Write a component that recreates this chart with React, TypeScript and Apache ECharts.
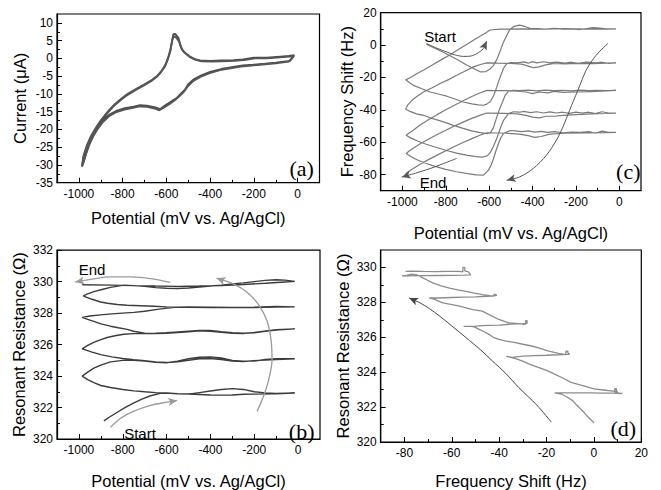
import React, { useEffect, useRef } from "react";
import * as echarts from "echarts";

// ---------- tick values ----------
const potentialTicks = [-1000, -800, -600, -400, -200, 0];
const potentialMinor = [-900, -700, -500, -300, -100];
const currentTicks = [-35, -30, -25, -20, -15, -10, -5, 0, 5, 10];
const currentMinor = [-32.5, -27.5, -22.5, -17.5, -12.5, -7.5, -2.5, 2.5, 7.5];
const freqTicks = [-80, -60, -40, -20, 0, 20];
const freqMinor = [-70, -50, -30, -10, 10];
const resTicksB = [320, 322, 324, 326, 328, 330, 332];
const resMinorB = [321, 323, 325, 327, 329, 331];
const resTicksD = [320, 322, 324, 326, 328, 330];
const resMinorD = [321, 323, 325, 327, 329];
const shiftTicks = [-80, -60, -40, -20, 0, 20];
const shiftMinor = [-70, -50, -30, -10, 10];

// ---------- (a) cyclic voltammograms ----------
const cvCycle1 = [
  [-15, 0.9], [-35, -0.7], [-100, -1.2], [-150, -1.5], [-203, -1.8], [-250, -2.0], [-294, -2.4], [-350, -3.0],
  [-400, -3.8], [-440, -4.8], [-477, -6.0], [-500, -7.3], [-515, -8.8], [-535, -10.0], [-553, -11.2], [-580, -12.2],
  [-610, -13.4], [-629, -14.3], [-650, -13.8], [-690, -13.3], [-720, -13.2], [-750, -13.6], [-790, -14.0], [-826, -14.7],
  [-860, -15.8], [-888, -17.3], [-910, -19.0], [-933, -21.2], [-950, -23.5], [-963, -25.8], [-975, -28.3], [-986, -30.5],
  [-980, -28.0], [-965, -25.0], [-948, -22.5], [-925, -20.0], [-903, -17.9], [-870, -15.4], [-842, -13.5], [-810, -11.8],
  [-781, -10.4], [-740, -8.9], [-705, -7.7], [-670, -6.4], [-644, -5.2], [-625, -3.9], [-606, -2.2], [-595, -0.5],
  [-583, 1.8], [-575, 4.5], [-568, 6.8], [-560, 6.9], [-545, 5.8], [-535, 3.5], [-525, 2.2], [-510, 1.3], [-492, 0.5],
  [-470, -0.2], [-446, -0.6], [-400, -0.7], [-350, -0.6], [-294, -0.5], [-250, -0.3], [-200, 0.2], [-142, 0.2],
  [-80, 0.5], [-40, 0.7], [-15, 0.9],
];
const cvCycle2 = [
  [-18, 0.6], [-40, -0.9], [-100, -1.4], [-160, -1.7], [-210, -2.0], [-260, -2.3], [-300, -2.7], [-355, -3.3],
  [-405, -4.2], [-445, -5.2], [-480, -6.5], [-503, -7.9], [-520, -9.4], [-540, -10.6], [-560, -11.7], [-585, -12.8],
  [-612, -13.9], [-632, -14.6], [-655, -14.1], [-692, -13.6], [-722, -13.5], [-752, -13.9], [-792, -14.4], [-828, -15.1],
  [-862, -16.3], [-890, -17.9], [-912, -19.7], [-935, -22.0], [-952, -24.3], [-966, -26.7], [-978, -29.2], [-985, -30.2],
  [-978, -27.2], [-962, -24.3], [-944, -21.8], [-920, -19.3], [-897, -17.2], [-865, -14.8], [-836, -12.9], [-805, -11.3],
  [-775, -9.9], [-735, -8.5], [-700, -7.3], [-665, -6.0], [-640, -4.8], [-620, -3.4], [-603, -1.6], [-592, 0.2],
  [-581, 2.6], [-573, 5.2], [-566, 6.2], [-556, 5.9], [-542, 4.8], [-532, 2.9], [-520, 1.8], [-505, 1.0], [-488, 0.2],
  [-465, -0.4], [-440, -0.8], [-395, -0.9], [-345, -0.8], [-290, -0.7], [-245, -0.5], [-195, 0.0], [-140, 0.0],
  [-80, 0.3], [-40, 0.5], [-18, 0.6],
];

// ---------- (c) frequency shift vs potential ----------
const freqTrace = [
  [-890, 0.5], [-850, -2], [-800, -5.2], [-750, -8.8], [-700, -12.6], [-660, -15.3], [-640, -16.6], [-615, -16.4],
  [-595, -14.8], [-580, -12.5], [-565, -9], [-550, -4], [-535, 1.5], [-519, 6], [-505, 9.5], [-485, 11.6], [-460, 12.3], [-435, 11.5], [-410, 10.2],
  [-380, 10.2], [-340, 9.8], [-300, 10.3], [-260, 9.9], [-220, 10], [-180, 9.6], [-150, 10.2], [-120, 10.8], [-90, 10.5], [-60, 10], [-15, 10],
  [-60, 9.9], [-150, 9.9], [-250, 10.1], [-350, 9.9], [-450, 10], [-550, 9.8], [-596, 9.3],
  [-620, 7.2], [-660, 4], [-700, 0.6], [-740, -2.6], [-780, -6], [-820, -9], [-860, -12.2], [-900, -15.2], [-940, -18.2], [-965, -20.2], [-985, -21.5],
  [-965, -23.4], [-949, -24.9], [-910, -27], [-872, -29], [-830, -30.4], [-795, -31.6], [-755, -33.5], [-719, -35.2], [-680, -36.3], [-650, -37], [-626, -37.2],
  [-611, -36.5], [-595, -35], [-580, -31.5], [-565, -26], [-550, -20], [-534, -14.5], [-519, -11.5], [-500, -10.8],
  [-470, -11], [-440, -10.4], [-420, -11.2], [-400, -10.2], [-380, -11], [-350, -10.3], [-320, -11], [-290, -10.5], [-250, -11.2], [-220, -10.6], [-190, -11.3], [-150, -10.5], [-110, -11], [-80, -10.6], [-50, -11.4], [-15, -11],
  [-60, -11.2], [-120, -11.5], [-200, -11.3], [-250, -11.6], [-300, -11.4], [-340, -12.2], [-370, -13.5], [-395, -14], [-420, -13], [-450, -11.8], [-500, -11.3], [-560, -11.2], [-611, -11],
  [-640, -12], [-673, -13.5], [-710, -16], [-749, -18.7], [-790, -21.5], [-826, -23.8], [-865, -26.5], [-903, -29], [-930, -31.5], [-955, -34], [-975, -37], [-985, -39.5],
  [-965, -41], [-935, -42.5], [-903, -43.4], [-860, -45.5], [-810, -47.5], [-765, -49.6], [-720, -51.5], [-680, -53], [-642, -54.1], [-610, -54.7],
  [-595, -54.3], [-580, -51], [-572, -47.5], [-557, -41.3], [-541, -36], [-526, -31], [-510, -28.5], [-490, -28],
  [-460, -28.2], [-420, -27.8], [-380, -28.3], [-340, -27.9], [-300, -28.2], [-260, -28], [-220, -28.3], [-180, -27.9], [-140, -28.1], [-100, -28], [-60, -28.2], [-15, -28],
  [-60, -28.3], [-130, -28.8], [-200, -29], [-260, -29.3], [-300, -28.6], [-330, -29.5], [-370, -29], [-400, -30], [-430, -29], [-470, -28.5], [-520, -28.2], [-570, -28.1], [-611, -28],
  [-640, -29.5], [-680, -31.8], [-720, -34.4], [-760, -37.2], [-800, -40], [-840, -43], [-880, -46.2], [-920, -49.6], [-950, -52.6], [-970, -54.5], [-983, -55.7],
  [-960, -57.5], [-930, -59.3], [-890, -61.3], [-850, -63], [-800, -65], [-750, -66.8], [-700, -68.2], [-660, -69], [-630, -69.2],
  [-610, -68.5], [-595, -66.5], [-580, -62.5], [-565, -57.8], [-549, -51.6], [-534, -46.5], [-511, -42.4], [-488, -41.2],
  [-460, -41.5], [-440, -41], [-410, -41.8], [-380, -41.2], [-350, -42], [-320, -41.3], [-290, -42], [-260, -41.5], [-230, -42.2], [-200, -41.4], [-170, -42], [-140, -41.5], [-110, -42.3], [-80, -41.2], [-50, -42], [-15, -42],
  [-60, -42.3], [-130, -42.5], [-200, -43], [-260, -43.5], [-300, -44], [-340, -44], [-370, -45], [-400, -44.5], [-430, -43.5], [-470, -42.5], [-530, -42.2], [-611, -42],
  [-640, -43.3], [-680, -45.3], [-720, -47.6], [-760, -50], [-800, -52.6], [-840, -55.3], [-880, -58.2], [-920, -61.2], [-950, -63.8], [-970, -65.6], [-982, -67],
  [-960, -69], [-930, -71], [-890, -73.2], [-850, -75], [-800, -76.8], [-750, -78.3], [-700, -79.4], [-660, -80.2], [-626, -80.4],
  [-603, -77.3], [-590, -74], [-580, -70.1], [-568, -65], [-557, -60.8], [-545, -57], [-534, -54.7], [-503, -52.8],
  [-480, -53], [-450, -53.5], [-420, -53], [-390, -53.8], [-360, -53.3], [-330, -54], [-300, -53.5], [-260, -54.2], [-220, -53.8], [-180, -54], [-140, -53.5], [-110, -54.5], [-80, -53.2], [-50, -54], [-15, -54],
  [-60, -54.2], [-150, -54.3], [-250, -54.5], [-320, -55], [-360, -56.5], [-390, -57], [-420, -56], [-460, -55], [-520, -54.5], [-611, -54.2],
  [-640, -55.6], [-680, -57.8], [-720, -60.2], [-760, -62.7], [-800, -65.3], [-840, -68], [-880, -70.8], [-920, -73.8], [-950, -76.3], [-970, -78], [-985, -79.5],
];
const freqStartArrow = [[-888, 0.9], [-840, -2], [-795, -4.3], [-760, -6], [-719, -7], [-685, -6.8], [-657, -5.3], [-627, -2.2], [-611, 2.5]];
const freqEndArrow = [[-749, -70], [-810, -73.2], [-872, -76.3], [-940, -79.2], [-1003, -81.6]];
const freqArcArrow = [[-53, 1], [-80, -2.5], [-107, -6.3], [-130, -10.5], [-153, -15.6], [-172, -21.5], [-191, -27.9], [-210, -34], [-229, -40.3], [-260, -50.6], [-290, -58.8], [-336, -68.1], [-397, -76.3], [-458, -81.4], [-519, -83.6]];

// ---------- (b) resonant resistance vs potential ----------
const resTrace = [
  [-886, 321.15], [-860, 321.4], [-825, 321.7], [-790, 322.0], [-749, 322.3], [-710, 322.55], [-673, 322.75], [-628, 322.9],
  [-600, 322.92], [-550, 322.88], [-500, 322.85], [-450, 322.95], [-400, 323.05], [-350, 323.15], [-300, 323.2], [-250, 323.15], [-200, 323.0], [-150, 322.93], [-100, 322.9], [-15, 322.92],
  [-100, 322.88], [-200, 322.85], [-250, 322.84], [-300, 322.8], [-350, 322.79], [-400, 322.8], [-450, 322.83], [-500, 322.86], [-550, 322.88], [-600, 322.92], [-650, 322.95],
  [-700, 323.0], [-749, 323.06], [-800, 323.15], [-856, 323.27], [-900, 323.4], [-932, 323.58], [-960, 323.77], [-985, 324.0],
  [-960, 324.25], [-932, 324.5], [-900, 324.7], [-856, 324.9], [-800, 325.0], [-749, 325.0],
  [-700, 324.96], [-650, 324.88], [-600, 324.85], [-550, 324.95], [-500, 325.1], [-450, 325.2], [-400, 325.22], [-350, 325.15], [-300, 325.0], [-250, 324.95], [-200, 324.95], [-150, 325.05], [-100, 325.1], [-15, 325.1],
  [-100, 325.05], [-200, 324.98], [-250, 324.93], [-300, 324.95], [-350, 325.05], [-400, 325.12], [-450, 325.1], [-500, 325.0], [-550, 324.9], [-600, 324.86], [-650, 324.9], [-700, 324.97], [-750, 325.04], [-800, 325.12],
  [-850, 325.22], [-900, 325.36], [-940, 325.52], [-970, 325.66], [-985, 325.73],
  [-960, 325.95], [-932, 326.14], [-900, 326.32], [-871, 326.45], [-830, 326.58], [-795, 326.66], [-750, 326.7],
  [-700, 326.7], [-650, 326.72], [-600, 326.75], [-550, 326.8], [-500, 326.85], [-450, 326.9], [-400, 326.9], [-350, 326.82], [-300, 326.75], [-250, 326.72], [-200, 326.75], [-150, 326.85], [-100, 326.92], [-15, 327.0],
  [-100, 326.95], [-200, 326.78], [-250, 326.7], [-300, 326.72], [-350, 326.78], [-400, 326.85], [-450, 326.87], [-500, 326.82], [-550, 326.77], [-600, 326.72], [-650, 326.7], [-700, 326.72],
  [-750, 326.85], [-780, 326.97], [-820, 327.07], [-856, 327.17], [-900, 327.32], [-932, 327.48], [-960, 327.6], [-985, 327.73],
  [-950, 327.82], [-901, 327.89], [-850, 327.95], [-800, 328.0], [-749, 328.05], [-700, 328.12], [-650, 328.22], [-597, 328.32], [-550, 328.38],
  [-500, 328.4], [-400, 328.38], [-300, 328.36], [-200, 328.38], [-100, 328.42], [-15, 328.4],
  [-100, 328.38], [-200, 328.36], [-300, 328.35], [-400, 328.35], [-500, 328.37], [-600, 328.4], [-660, 328.44], [-719, 328.47],
  [-780, 328.5], [-825, 328.55], [-870, 328.63], [-901, 328.71], [-940, 328.88], [-970, 329.03], [-980, 329.1],
  [-960, 329.22], [-932, 329.37], [-890, 329.52], [-856, 329.64], [-795, 329.78],
  [-750, 329.75], [-700, 329.7], [-650, 329.62], [-600, 329.58], [-550, 329.57], [-500, 329.6], [-450, 329.65], [-400, 329.72], [-350, 329.78], [-300, 329.85], [-250, 329.92], [-200, 330.0], [-150, 330.08], [-100, 330.12], [-60, 330.1], [-15, 330.02],
  [-60, 329.98], [-150, 329.9], [-250, 329.82], [-350, 329.75], [-450, 329.72], [-550, 329.7], [-650, 329.72], [-750, 329.75], [-850, 329.78], [-985, 329.8],
];
const resEndArrow = [[-583, 329.96], [-673, 330.2], [-760, 330.3], [-856, 330.3], [-932, 330.18], [-1017, 329.98]];
const resStartArrow = [[-856, 320.74], [-810, 321.32], [-749, 321.77], [-673, 322.14], [-597, 322.34], [-552, 322.45]];
const resArcArrow = [[-187, 321.75], [-157, 322.75], [-134, 323.78], [-119, 325.01], [-123, 326.25], [-141, 327.48], [-179, 328.51], [-233, 329.33], [-293, 329.84], [-372, 330.22]];

// ---------- (d) resonant resistance vs frequency shift ----------
const resFreqTrace = [
  [0, 321.1], [-1.5, 321.3], [-3, 321.5], [-4.2, 321.7], [-6, 321.95], [-7.5, 322.15], [-9, 322.37], [-11, 322.55], [-13.8, 322.75], [-16.6, 322.82],
  [-14, 322.82], [-8, 322.82], [-2, 322.82], [4, 322.8], [8, 322.8], [12, 322.78], [10.5, 322.8], [9.5, 322.85],
  [9.5, 323.05], [8.8, 323.05], [8.8, 322.88], [10, 322.9], [10, 322.92], [9.3, 322.92],
  [8, 322.92], [4, 322.98], [0, 323.04], [-4, 323.2], [-9.7, 323.42], [-13, 323.65], [-16.6, 323.89], [-20, 324.1], [-23.5, 324.27], [-27, 324.45], [-30.4, 324.65], [-33, 324.78], [-36, 324.88], [-37, 324.9], [-34.5, 324.85],
  [-30, 324.92], [-25, 324.95], [-20, 324.97], [-15, 325.0], [-11, 325.02], [-10.2, 325.02],
  [-11, 325.1], [-11, 325.2], [-11.8, 325.2], [-11.8, 325.0], [-12, 324.98],
  [-15, 325.08], [-19.4, 325.22], [-23, 325.38], [-26.3, 325.5], [-30, 325.6], [-33.2, 325.69], [-37, 325.78], [-40.1, 325.88], [-42.5, 326.0], [-44.3, 326.17], [-46.5, 326.33], [-48.4, 326.45], [-50.5, 326.6], [-52, 326.63],
  [-55, 326.62], [-50, 326.64], [-45, 326.68], [-40, 326.7], [-35, 326.75], [-30, 326.78], [-28.2, 326.8],
  [-28.2, 326.95], [-28.8, 326.95], [-28.8, 326.75], [-29.5, 326.72],
  [-30.4, 326.77], [-33, 326.8], [-36, 326.83], [-40.1, 327.02], [-44.3, 327.3], [-47.1, 327.5], [-51.2, 327.59], [-56.7, 327.78], [-63.7, 327.97], [-67.8, 328.2], [-69.5, 328.25],
  [-66, 328.25], [-60, 328.28], [-55, 328.3], [-50, 328.32], [-45, 328.35], [-42, 328.38], [-41, 328.4],
  [-41.5, 328.45], [-42.2, 328.45], [-42.2, 328.35],
  [-44, 328.38], [-47.1, 328.44], [-50.5, 328.53], [-54, 328.63], [-57.5, 328.72], [-60.9, 328.82], [-64.5, 328.95], [-67.8, 329.1], [-70, 329.25], [-72, 329.39], [-73.4, 329.49], [-74.7, 329.58], [-77, 329.62], [-79, 329.55], [-81, 329.52],
  [-78, 329.52], [-72, 329.53], [-66, 329.54], [-60, 329.55], [-55, 329.56], [-52, 329.58],
  [-53, 329.75], [-54.5, 329.8], [-54.5, 330.0], [-55.3, 330.0], [-55.3, 329.75],
  [-57, 329.78], [-62, 329.77], [-67, 329.76], [-72, 329.77], [-77, 329.79], [-79.5, 329.78],
];
const resFreqArrow = [[-18, 321.14], [-24, 322.1], [-31.8, 323.13], [-37, 323.9], [-42.9, 324.65], [-48, 325.3], [-54, 325.98], [-60, 326.65], [-65, 327.2], [-69.5, 327.65], [-73.4, 327.97], [-78, 328.25]];

// ---------- layout ----------
const SANS = "'Liberation Sans', Arial, sans-serif";
const SERIF = "'Liberation Serif', 'Times New Roman', serif";

const panels = [
  { grid: { left: 57, top: 14, width: 262.5, height: 168.7 }, xMin: -1100, xMax: 100, yMin: -35, yMax: 12.5,
    xTicks: potentialTicks, xMinor: potentialMinor, yTicks: currentTicks, yMinor: currentMinor,
    xName: "Potential (mV vs. Ag/AgCl)", yName: "Current (\u03bcA)", xGap: 27, yGap: 29 },
  { grid: { left: 380.7, top: 12.7, width: 260.3, height: 178 }, xMin: -1100, xMax: 100, yMin: -90, yMax: 20,
    xTicks: potentialTicks, xMinor: potentialMinor, yTicks: freqTicks, yMinor: freqMinor,
    xName: "Potential (mV vs. Ag/AgCl)", yName: "Frequency Shift (Hz)", xGap: 34, yGap: 24 },
  { grid: { left: 57, top: 250.2, width: 263, height: 194.8 }, xMin: -1100, xMax: 100, yMin: 320, yMax: 332,
    xTicks: potentialTicks, xMinor: potentialMinor, yTicks: resTicksB, yMinor: resMinorB,
    xName: "Potential (mV vs. Ag/AgCl)", yName: "Resonant Resistance (\u03a9)", xGap: 33, yGap: 30 },
  { grid: { left: 380.7, top: 250, width: 260.6, height: 192.3 }, xMin: -90, xMax: 20, yMin: 320, yMax: 331,
    xTicks: shiftTicks, xMinor: shiftMinor, yTicks: resTicksD, yMinor: resMinorD,
    xName: "Frequency Shift (Hz)", yName: "Resonant Resistance (\u03a9)", xGap: 30, yGap: 29 },
];

function buildOption() {
  const grid: any[] = [];
  const xAxis: any[] = [];
  const yAxis: any[] = [];
  const axisLine = { show: true, onZero: false, lineStyle: { color: "#000", width: 1.2 } };
  const hiddenLine = { show: false, onZero: false };
  const nameStyle = { fontFamily: SANS, fontSize: 16.5, color: "#000" };
  const labelStyle = { fontFamily: SANS, fontSize: 12, color: "#000", formatter: (v: number) => String(v) };
  panels.forEach((p, i) => {
    grid.push({ ...p.grid, show: true, borderColor: "#000", borderWidth: 1.2, backgroundColor: "transparent", containLabel: false });
    xAxis.push({
      type: "value", gridIndex: i, position: "bottom", min: p.xMin, max: p.xMax,
      axisLine, splitLine: { show: false },
      axisTick: { show: true, inside: true, length: 5, customValues: p.xTicks, lineStyle: { color: "#000", width: 1 } },
      axisLabel: { customValues: p.xTicks, margin: 5, ...labelStyle },
      name: p.xName, nameLocation: "middle", nameGap: p.xGap, nameTextStyle: nameStyle,
    });
    xAxis.push({
      type: "value", gridIndex: i, position: "bottom", min: p.xMin, max: p.xMax,
      axisLine: hiddenLine, splitLine: { show: false }, axisLabel: { show: false },
      axisTick: { show: true, inside: true, length: 3, customValues: p.xMinor, lineStyle: { color: "#000", width: 1 } },
    });
    yAxis.push({
      type: "value", gridIndex: i, position: "left", min: p.yMin, max: p.yMax,
      axisLine, splitLine: { show: false },
      axisTick: { show: true, inside: true, length: 5, customValues: p.yTicks, lineStyle: { color: "#000", width: 1 } },
      axisLabel: { customValues: p.yTicks, margin: 4, ...labelStyle },
      name: p.yName, nameLocation: "middle", nameGap: p.yGap, nameTextStyle: nameStyle,
    });
    yAxis.push({
      type: "value", gridIndex: i, position: "left", min: p.yMin, max: p.yMax,
      axisLine: hiddenLine, splitLine: { show: false }, axisLabel: { show: false },
      axisTick: { show: true, inside: true, length: 3, customValues: p.yMinor, lineStyle: { color: "#000", width: 1 } },
    });
  });

  const series: any[] = [];
  const arrows: number[] = [];
  const line = (panel: number, data: number[][], color: string, width: number) => {
    series.push({
      type: "line", xAxisIndex: panel * 2, yAxisIndex: panel * 2, data, showSymbol: false, symbol: "none",
      lineStyle: { color, width }, silent: true, z: 3,
    });
  };
  const arrow = (panel: number, pts: number[][], color: string, width: number) => {
    arrows.push(series.length);
    series.push({
      type: "line", xAxisIndex: panel * 2, yAxisIndex: panel * 2, smooth: 0.3, showSymbol: true, symbol: "none",
      data: pts.map((pt, k) => (k === pts.length - 1
        ? { value: pt, symbol: "arrow", symbolSize: [6, 9], symbolRotate: 0, itemStyle: { color } }
        : pt)),
      lineStyle: { color, width }, silent: true, z: 4,
    });
  };

  line(0, cvCycle1, "#4e4e4e", 1.9);
  line(0, cvCycle2, "#555555", 1.9);
  line(1, freqTrace, "#7a7a7a", 1.2);
  arrow(1, freqStartArrow, "#555", 1);
  arrow(1, freqEndArrow, "#555", 1);
  arrow(1, freqArcArrow, "#555", 1);
  line(2, resTrace, "#3c3c3c", 1.4);
  arrow(2, resEndArrow, "#9a9a9a", 1.3);
  arrow(2, resStartArrow, "#9a9a9a", 1.3);
  arrow(2, resArcArrow, "#9a9a9a", 1.3);
  line(3, resFreqTrace, "#8c8c8c", 1.3);
  arrow(3, resFreqArrow, "#444", 1);

  const txt = (x: number, y: number, text: string, font: string, size: number) => ({
    type: "text", x, y, z: 10,
    style: { text, fontFamily: font, fontSize: size, fill: "#000", align: "center", verticalAlign: "middle" },
  });
  const graphic = [
    txt(440, 36, "Start", SANS, 15),
    txt(433, 182, "End", SANS, 15),
    txt(92, 269, "End", SANS, 15),
    txt(140, 433, "Start", SANS, 15),
    txt(301.7, 168.5, "(a)", SERIF, 22),
    txt(628.3, 171.5, "(c)", SERIF, 22),
    txt(301.7, 431.5, "(b)", SERIF, 22),
    txt(623.3, 428, "(d)", SERIF, 22),
  ];

  return { option: { animation: false, backgroundColor: "#fff", grid, xAxis, yAxis, series, graphic }, arrows };
}

export default function App() {
  const ref = useRef<HTMLDivElement>(null);
  useEffect(() => {
    document.body.style.margin = "0";
    if (!ref.current) return;
    const chart = echarts.init(ref.current, undefined, { renderer: "svg" });
    const { option, arrows } = buildOption();
    chart.setOption(option as any);
    arrows.forEach((si) => {
      const s: any = (option as any).series[si];
      const n = s.data.length;
      const a = chart.convertToPixel({ seriesIndex: si }, s.data[n - 2]) as number[];
      const b = chart.convertToPixel({ seriesIndex: si }, s.data[n - 1].value) as number[];
      if (a && b) {
        const dx = b[0] - a[0];
        const dyUp = a[1] - b[1];
        s.data[n - 1].symbolRotate = (Math.atan2(-dx, dyUp) * 180) / Math.PI;
      }
    });
    chart.setOption(option as any, true);
    return () => chart.dispose();
  }, []);
  return <div ref={ref} style={{ position: "absolute", left: 0, top: 0, width: 661, height: 490 }} />;
}
